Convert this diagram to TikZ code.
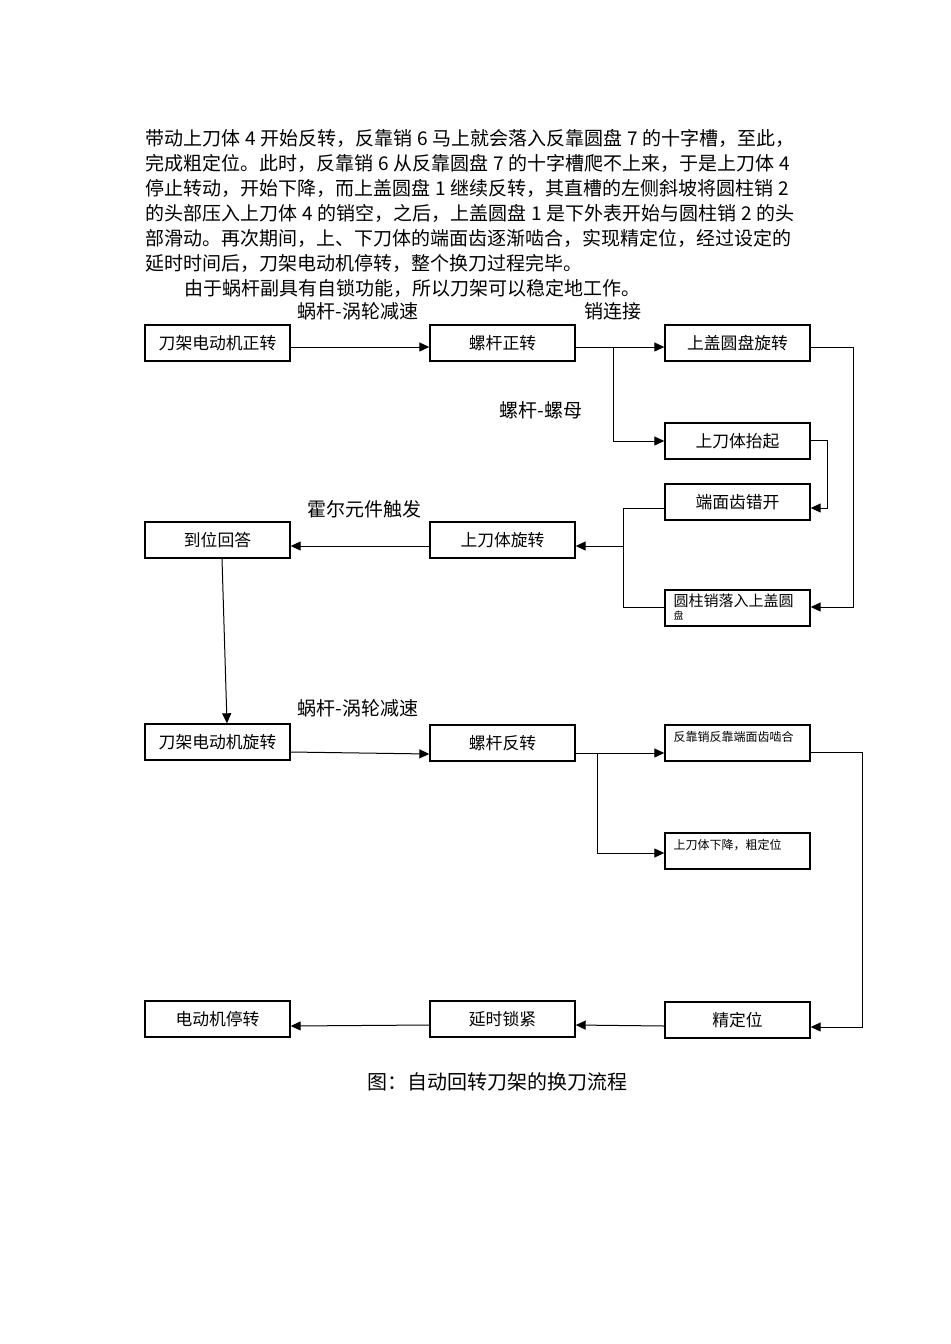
\documentclass[tikz,border=0pt]{standalone}
\usepackage{fontspec}
\usepackage{tikz}
\usetikzlibrary{arrows.meta}
\newfontfamily\cjk{Noto Sans CJK SC}
\XeTeXlinebreaklocale "zh"
\XeTeXlinebreakskip=0pt plus 2pt
\newcommand{\dg}[1]{\hspace{0.25em}#1\hspace{0.25em}}

\begin{document}
\begin{tikzpicture}[x=0.5pt,y=-0.5pt,
  txt/.style={anchor=base west,inner sep=0pt,font=\cjk\fontsize{9.5}{11}\selectfont},
  lbl/.style={inner sep=0pt,font=\cjk\fontsize{9.5}{11}\selectfont},
  box/.style={draw,line width=0.7pt,minimum width=72.5pt,minimum height=18pt,inner sep=0pt,font=\cjk\fontsize{8.4}{10}\selectfont},
  arr/.style={-{Triangle[length=5pt,width=4.5pt]},line width=0.5pt},
  ln/.style={line width=0.5pt}]
\useasboundingbox (0,0) rectangle (950,1344);

% text above the chart
\node[txt] (p1) at (145,145) {\makebox[325pt][s]{带动上刀体\dg{4}开始反转，反靠销\dg{6}马上就会落入反靠圆盘\dg{7}的十字槽，至此，}};
\node[txt] (p2) at (145,170) {\makebox[325pt][s]{完成粗定位。此时，反靠销\dg{6}从反靠圆盘\dg{7}的十字槽爬不上来，于是上刀体\dg{4}}};
\node[txt] (p3) at (145,195) {\makebox[325pt][s]{停止转动，开始下降，而上盖圆盘\dg{1}继续反转，其直槽的左侧斜坡将圆柱销\dg{2}}};
\node[txt] (p4) at (145,220) {\makebox[325pt][s]{的头部压入上刀体\dg{4}的销空，之后，上盖圆盘\dg{1}是下外表开始与圆柱销\dg{2}的头}};
\node[txt] (p5) at (145,245) {\makebox[325pt][s]{部滑动。再次期间，上、下刀体的端面齿逐渐啮合，实现精定位，经过设定的}};
\node[txt] (p6) at (145,270) {延时时间后，刀架电动机停转，整个换刀过程完毕。};
\node[txt] (p7) at (184,295) {由于蜗杆副具有自锁功能，所以刀架可以稳定地工作。};

% first part
\node[box] (m1) at (217.5,343) {刀架电动机正转};
\node[box] (m2) at (502.5,343) {螺杆正转};
\node[box] (m3) at (737.5,343) {上盖圆盘旋转};
\node[box] (m4) at (737.5,441) {上刀体抬起};
\node[box] (m5) at (737.5,502) {端面齿错开};
\node[box] (m6) at (217.5,540) {到位回答};
\node[box] (m7) at (502.5,540) {上刀体旋转};
\node[box] (m8) at (737.5,608) {\parbox[c][16pt][t]{64pt}{\vspace*{1pt}\fontsize{7.5}{7.5}\selectfont 圆柱销落入上盖圆\\[-1pt]{\fontsize{5}{5}\selectfont 盘}}};

\node[lbl] (l1) at (358,311) {蜗杆-涡轮减速};
\node[lbl] (l2) at (613,311) {销连接};
\node[lbl] (l3) at (541,410) {螺杆-螺母};
\node[lbl] (l4) at (364,509) {霍尔元件触发};

\coordinate (j1) at (613,347);
\coordinate (r1) at (853,347);
\coordinate (r2) at (827,440);
\coordinate (j2) at (623,546);

\draw[arr] ([yshift=-2pt]m1.east) -- ([yshift=-2pt]m2.west);
\draw[ln] (m2.east |- j1) -- (j1);
\draw[arr] (j1) -- (m3.west |- j1);
\draw[arr] (j1) |- (m4.west);
\draw[arr] (m3.east |- r1) -- (r1) |- ([yshift=0.5pt]m8.east);
\draw[arr] (m4.east |- r2) -- (r2) |- ([yshift=-3pt]m5.east);
\draw[ln] ([yshift=-3pt]m5.west) -| (j2);
\draw[ln] ([yshift=0.5pt]m8.west) -| (j2);
\draw[arr] (j2) -- (m7.east |- j2);
\draw[arr] (m7.west |- j2) -- (m6.east |- j2);

% second part
\node[box] (n1) at (217.5,742) {刀架电动机旋转};
\node[box] (n2) at (502.5,743) {螺杆反转};
\node[box] (n3) at (737.5,743) {\parbox[c][16pt][t]{64pt}{\vspace*{2pt}\fontsize{6}{7}\selectfont 反靠销反靠端面齿啮合}};
\node[box] (n4) at (737.5,851) {\parbox[c][16pt][t]{64pt}{\vspace*{2pt}\fontsize{6}{7}\selectfont 上刀体下降，粗定位}};
\node[box] (n5) at (217.5,1019) {电动机停转};
\node[box] (n6) at (502.5,1019) {延时锁紧};
\node[box] (n7) at (737.5,1020) {精定位};

\node[lbl] (l5) at (358,708) {蜗杆-涡轮减速};

\coordinate (j3) at (597,753);
\coordinate (r3) at (862,752);

\draw[arr] ([xshift=2.25pt]m6.south) -- ([xshift=4.75pt]n1.north);
\draw[arr] ([yshift=-5pt]n1.east) -- ([yshift=-5.5pt]n2.west);
\draw[ln] (n2.east |- j3) -- (j3);
\draw[arr] (j3) -- (n3.west |- j3);
\draw[arr] (j3) |- ([yshift=-1pt]n4.west);
\draw[arr] (n3.east |- r3) -- (r3) |- ([yshift=-3.5pt]n7.east);
\draw[arr] ([yshift=-3pt]n7.west) -- ([yshift=-3pt]n6.east);
\draw[arr] ([yshift=-3pt]n6.west) -- ([yshift=-3.5pt]n5.east);

\node[lbl,font=\cjk\fontsize{10}{12}\selectfont] (cap) at (497,1082) {图：自动回转刀架的换刀流程};
\end{tikzpicture}
\end{document}
